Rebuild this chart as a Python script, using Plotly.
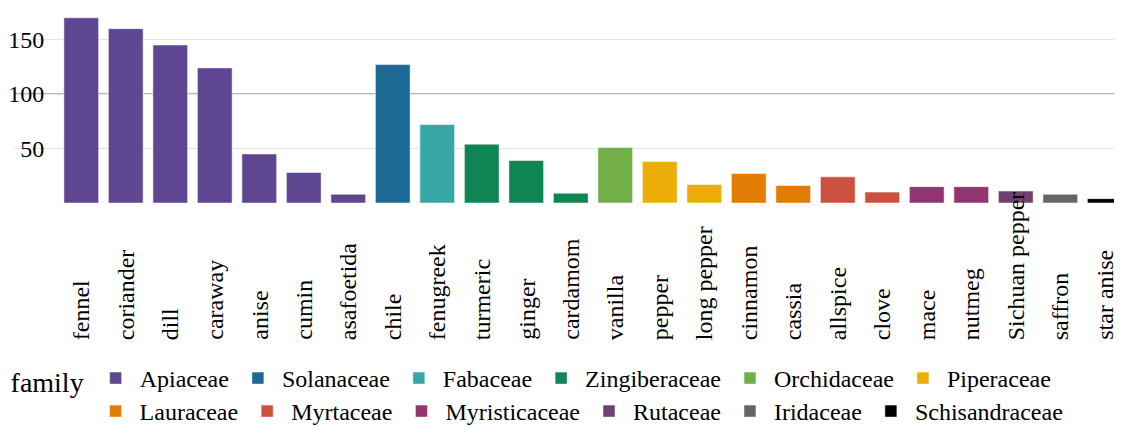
import plotly.graph_objects as go

spices = ["fennel", "coriander", "dill", "caraway", "anise", "cumin", "asafoetida",
          "chile", "fenugreek", "turmeric", "ginger", "cardamom", "vanilla", "pepper",
          "long pepper", "cinnamon", "cassia", "allspice", "clove", "mace", "nutmeg",
          "Sichuan pepper", "saffron", "star anise"]
values = [170, 160, 145, 124, 45, 28, 8,
          127, 72, 54, 39, 9, 51, 38,
          17, 27, 16, 24, 10, 15, 15,
          11, 8, 4]
families = ["Apiaceae"] * 7 + ["Solanaceae", "Fabaceae", "Zingiberaceae", "Zingiberaceae",
            "Zingiberaceae", "Orchidaceae", "Piperaceae", "Piperaceae", "Lauraceae",
            "Lauraceae", "Myrtaceae", "Myrtaceae", "Myristicaceae", "Myristicaceae",
            "Rutaceae", "Iridaceae", "Schisandraceae"]
family_order = ["Apiaceae", "Solanaceae", "Fabaceae", "Zingiberaceae", "Orchidaceae",
                "Piperaceae", "Lauraceae", "Myrtaceae", "Myristicaceae", "Rutaceae",
                "Iridaceae", "Schisandraceae"]
family_colors = ["rgb(95,70,144)", "rgb(29,105,150)", "rgb(56,166,165)", "rgb(15,133,84)",
                 "rgb(115,175,72)", "rgb(237,173,8)", "rgb(225,124,5)", "rgb(204,80,62)",
                 "rgb(148,52,110)", "rgb(111,64,112)", "rgb(102,102,102)", "rgb(0,0,0)"]

FONT = "Liberation Serif"

fig = go.Figure()
for i, (fam, col) in enumerate(zip(family_order, family_colors)):
    xs = [s for s, f in zip(spices, families) if f == fam]
    ys = [v for v, f in zip(values, families) if f == fam]
    fig.add_trace(go.Bar(x=xs, y=ys, name=fam, marker_color=col,
                         marker_line=dict(color="white", width=0.5),
                         legend="legend" if i < 6 else "legend2"))

# category labels, bottom-aligned, rotated
for s in spices:
    fig.add_annotation(x=s, y=0, xref="x", yref="paper", text=s, textangle=-90,
                       showarrow=False, xanchor="center", yanchor="bottom",
                       yshift=-139, font=dict(family=FONT, size=24, color="black"))

# reference line at 100
fig.add_shape(type="line", xref="paper", yref="y", x0=-0.041, x1=1, y0=100, y1=100,
              line=dict(color="#b4b9bf", width=2), layer="below")

legend_common = dict(orientation="h", xref="container", yref="container",
                     yanchor="top", xanchor="left", itemwidth=38,
                     bgcolor="rgba(0,0,0,0)",
                     font=dict(family=FONT, size=24, color="black"))

fig.update_layout(
    template="plotly_white",
    width=1122, height=427,
    margin=dict(l=51, r=3, t=0, b=232),
    bargap=0.22,
    font=dict(family=FONT, size=24, color="black"),
    xaxis=dict(categoryorder="array", categoryarray=spices, showticklabels=False,
               showgrid=False, zeroline=False),
    yaxis=dict(tickvals=[50, 100, 150], gridcolor="#e3e6ec", gridwidth=1,
               ticks="outside", ticklen=44, tickcolor="#e3e6ec", tickwidth=1,
               ticklabelstandoff=-35, zeroline=False, showline=False,
               tickfont=dict(family=FONT, size=24, color="black")),
    legend=dict(legend_common, x=0.0005, y=(427 - 348) / 427,
                title=dict(text="family", font=dict(family=FONT, size=28, color="black"))),
    legend2=dict(legend_common, x=0.0745, y=(427 - 381) / 427),
)

fig.write_html("out.html")
